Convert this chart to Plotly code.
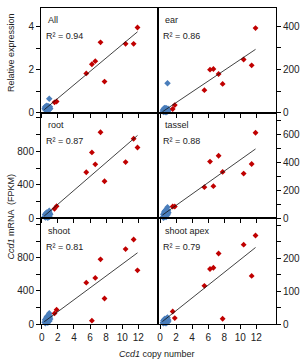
import plotly.graph_objects as go

# ---------------- data ----------------
panel_names = ["All", "ear", "root", "tassel", "shoot", "shoot apex"]
r2_labels = ["R² = 0.94", "R² = 0.86", "R² = 0.87", "R² = 0.88", "R² = 0.81", "R² = 0.79"]

# copy number of high-copy (red) and low-copy (blue) lines
red_x = [1.58, 1.84, 5.53, 6.23, 6.65, 7.30, 7.80, 10.42, 11.42, 11.90]
blue_x = [0.35, 0.40, 0.45, 0.50, 0.52, 0.55, 0.60, 0.62, 0.65, 0.70,
          0.72, 0.75, 0.80, 0.82, 0.85, 0.90, 0.93, 0.95, 1.00, 1.05]

red_all = [0.48, 0.52, 1.83, 2.26, 2.40, 3.28, 1.45, 3.21, 3.21, 3.97]
red_ear = [17, 35, 104, 199, 202, 179, 133, 246, 219, 391]
red_root = [115, 145, 550, 787, 645, 1028, 443, 672, 950, 846]
red_tassel = [85, 85, 223, 406, 230, 448, 332, 320, 389, 612]
red_shoot = [128, 172, 501, 40, 558, 783, 309, 907, 1024, 650]
red_apex = [38, 18, 116, 167, 171, 214, 16, 241, 146, 269]

blue_all = [0.18, 0.26, 0.12, 0.22, 0.30, 0.16, 0.24, 0.32, 0.14, 0.28,
            0.20, 0.12, 0.30, 0.18, 0.25, 0.22, 0.65, 0.15, 0.28, 0.20]
blue_ear = [8, 15, 3, 12, 20, 6, 14, 22, 4, 18, 10, 2, 20, 8, 16, 12, 136, 5, 18, 10]
blue_root = [20, 45, 10, 35, 60, 15, 50, 70, 25, 40, 30, 8, 65, 35, 55, 75, 90, 20, 60, 45]
blue_tassel = [10, 30, 5, 25, 45, 15, 40, 55, 20, 35, 50, 10, 65, 30, 60, 45, 80, 25, 55, 40]
blue_shoot = [20, 50, 10, 40, 70, 25, 60, 90, 30, 55, 80, 15, 100, 45, 75, 110, 130, 35, 85, 60]
blue_apex = [4, 10, 2, 8, 14, 5, 12, 16, 3, 10, 7, 2, 15, 6, 12, 18, 20, 5, 14, 9]

# regression lines (slope, intercept)
fit_slope = [0.313, 24.9, 83.0, 40.8, 72.0, 19.4]
fit_intercept = [0.045, -3.5, 2.4, 11.0, 5.6, 1.6]
fit_x = [0.3, 11.9]

# axis setup
y_max = [4.88, 484, 1262, 756, 1280, 321]
y_tick_step = [1, 100, 200, 100, 200, 50]
y_tick_top = [4, 400, 1200, 700, 1200, 300]
y_label_vals = [[0, 2, 4], [0, 200, 400], [0, 400, 800], [0, 200, 400, 600], [0, 400, 800], [0, 100, 200]]
x_ticks = [0, 2, 4, 6, 8, 10, 12]

red_sets = [red_all, red_ear, red_root, red_tassel, red_shoot, red_apex]
blue_sets = [blue_all, blue_ear, blue_root, blue_tassel, blue_shoot, blue_apex]

# ---------------- figure ----------------
FONT = "Liberation Sans, Arial, sans-serif"
RED = "#c00000"
BLUE = "#4a7ebb"

fig = go.Figure()

W, H = 307, 363
ml, mr, mt, mb = 41, 29, 7, 39
pw, ph = W - ml - mr, H - mt - mb
xsplit = 118 / pw
row_dom = [[(324 - 112) / ph, 1.0], [(324 - 218) / ph, (324 - 112) / ph], [0.0, (324 - 218) / ph]]

annotations = []
for i in range(6):
    r, c = divmod(i, 2)
    ax = "" if i == 0 else str(i + 1)
    xa, ya = "x" + ax, "y" + ax

    fig.add_trace(go.Scatter(x=blue_x, y=blue_sets[i], mode="markers", xaxis=xa, yaxis=ya,
                             marker=dict(symbol="diamond", size=5, color=BLUE), showlegend=False,
                             cliponaxis=False))
    fig.add_trace(go.Scatter(x=red_x, y=red_sets[i], mode="markers", xaxis=xa, yaxis=ya,
                             marker=dict(symbol="diamond", size=4.5, color=RED), showlegend=False,
                             cliponaxis=False))
    ly = [fit_slope[i] * v + fit_intercept[i] for v in fit_x]
    fig.add_trace(go.Scatter(x=fit_x, y=ly, mode="lines", xaxis=xa, yaxis=ya,
                             line=dict(color="#111", width=0.8), showlegend=False))

    yt = []
    v = 0
    while v <= y_tick_top[i] + 1e-9:
        yt.append(v)
        v += y_tick_step[i]
    ytext = [(str(int(t)) if t in y_label_vals[i] else "") for t in yt]

    xdom = [0, xsplit] if c == 0 else [xsplit, 1]
    xrange = [-0.1, 14.45] if c == 0 else [-0.25, 14.45]
    fig.update_layout(**{
        "xaxis" + ax: dict(domain=xdom, range=xrange, anchor=ya, tickvals=x_ticks,
                           ticks="outside", ticklen=4, tickwidth=1, tickcolor="#000",
                           showticklabels=(r == 2), showgrid=False, zeroline=False,
                           showline=True, linecolor="#000", linewidth=1, mirror=True,
                           tickfont=dict(family=FONT, size=10, color="#222")),
        "yaxis" + ax: dict(domain=row_dom[r], range=[0, y_max[i]], anchor=xa,
                           side="left" if c == 0 else "right",
                           tickvals=yt, ticktext=ytext,
                           ticks="outside", ticklen=4, tickwidth=1, tickcolor="#000",
                           showgrid=False, zeroline=False,
                           showline=True, linecolor="#000", linewidth=1, mirror=True,
                           tickfont=dict(family=FONT, size=10, color="#222")),
    })
    annotations.append(dict(xref=xa + " domain", yref=ya + " domain", x=5 / 118,
                            y=1 - 12.5 / 105.7, xanchor="left", yanchor="middle",
                            text=panel_names[i], showarrow=False,
                            font=dict(family=FONT, size=9, color="#222")))
    annotations.append(dict(xref=xa + " domain", yref=ya + " domain", x=3 / 118,
                            y=1 - 28.5 / 105.7, xanchor="left", yanchor="middle",
                            text=r2_labels[i], showarrow=False,
                            font=dict(family=FONT, size=9, color="#222")))

annotations.append(dict(xref="paper", yref="paper", x=(11 - ml) / pw, y=(324 - 52) / ph,
                        text="Relative expression", textangle=-90, showarrow=False,
                        xanchor="center", yanchor="middle",
                        font=dict(family=FONT, size=9, color="#222")))
annotations.append(dict(xref="paper", yref="paper", x=(11 - ml) / pw, y=(324 - 216) / ph,
                        text="<i>Ccd1</i> mRNA  (FPKM)", textangle=-90, showarrow=False,
                        xanchor="center", yanchor="middle",
                        font=dict(family=FONT, size=9, color="#222")))
annotations.append(dict(xref="paper", yref="paper", x=(158 - ml) / pw, y=(324 - 354) / ph,
                        text="<i>Ccd1</i> copy number", showarrow=False,
                        xanchor="center", yanchor="middle",
                        font=dict(family=FONT, size=9, color="#222")))

fig.update_layout(width=W, height=H, margin=dict(l=ml, r=mr, t=mt, b=mb),
                  paper_bgcolor="white", plot_bgcolor="white",
                  annotations=annotations, showlegend=False)

fig.write_html("out.html", config={"displayModeBar": False})
